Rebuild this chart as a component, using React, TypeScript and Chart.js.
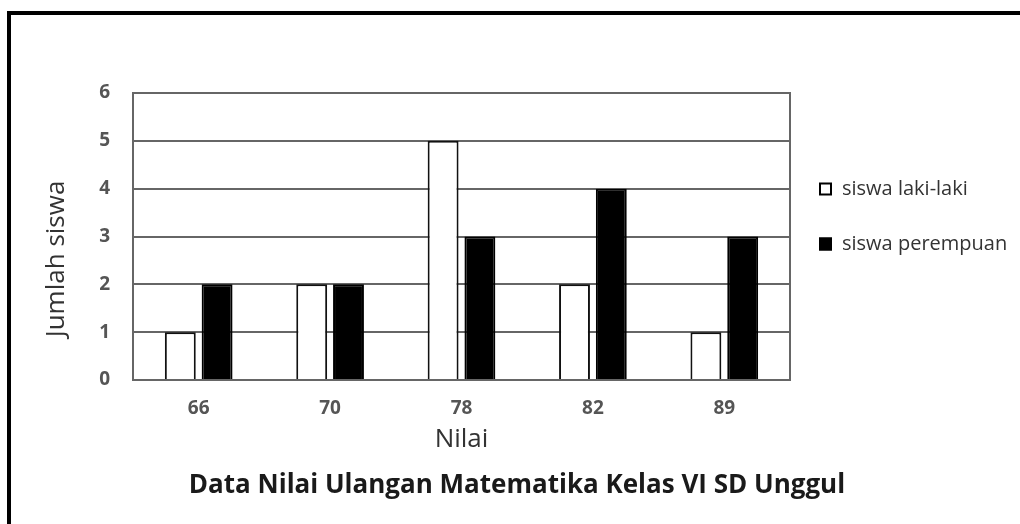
import React, { useEffect, useRef } from "react";
import { Chart, registerables } from "chart.js";

Chart.register(...registerables);

const categories = ["66", "70", "78", "82", "89"];
const seriesNames = ["siswa laki-laki", "siswa perempuan"];
const lakiLaki = [1, 2, 5, 2, 1];
const perempuan = [2, 2, 3, 4, 3];
const yTicks = [0, 1, 2, 3, 4, 5, 6];
const xTitle = "Nilai";
const yTitle = "Jumlah siswa";
const chartTitle = "Data Nilai Ulangan Matematika Kelas VI SD Unggul";

const FONT = "'Open Sans', 'Noto Sans', sans-serif";

const decorPlugin = {
  id: "decor",
  beforeDatasetsDraw(chart: any) {
    const { ctx, chartArea } = chart;
    ctx.save();
    ctx.strokeStyle = "#666";
    ctx.lineWidth = 2;
    ctx.strokeRect(chartArea.left, chartArea.top, chartArea.right - chartArea.left, chartArea.bottom - chartArea.top);
    ctx.restore();
  },
  afterDraw(chart: any) {
    const { ctx, chartArea } = chart;
    ctx.save();
    // y axis title
    ctx.translate(57, 259);
    ctx.rotate(-Math.PI / 2);
    ctx.font = `26px ${FONT}`;
    ctx.fillStyle = "#333";
    ctx.textAlign = "center";
    ctx.textBaseline = "middle";
    ctx.fillText(yTitle, 0, 0);
    ctx.restore();

    // legend
    ctx.save();
    const lx = chartArea.right + 29;
    const ys = [chartArea.top + 96, chartArea.top + 151];
    chart.data.datasets.forEach((ds: any, i: number) => {
      const y = ys[i];
      ctx.fillStyle = ds.backgroundColor;
      ctx.fillRect(lx, y - 6.5, 13, 13);
      ctx.strokeStyle = "#000";
      ctx.lineWidth = 2;
      ctx.strokeRect(lx + 1, y - 5.5, 11, 11);
      ctx.font = `20px ${FONT}`;
      ctx.fillStyle = "#333";
      ctx.textAlign = "left";
      ctx.textBaseline = "middle";
      ctx.fillText(ds.label, lx + 23, y);
    });
    ctx.restore();

    // chart title
    ctx.save();
    ctx.font = `bold 26px ${FONT}`;
    ctx.fillStyle = "#1a1a1a";
    ctx.textAlign = "center";
    ctx.textBaseline = "middle";
    ctx.fillText(chartTitle, 517, 486);
    ctx.restore();
  },
};

export default function App() {
  const canvasRef = useRef<HTMLCanvasElement | null>(null);

  useEffect(() => {
    const canvas = canvasRef.current;
    if (!canvas) return;
    const chart = new Chart(canvas, {
      type: "bar",
      data: {
        labels: categories,
        datasets: [
          {
            label: seriesNames[0],
            data: lakiLaki,
            backgroundColor: "#ffffff",
            borderColor: "#111111",
            borderWidth: 2,
          },
          {
            label: seriesNames[1],
            data: perempuan,
            backgroundColor: "#000000",
            borderColor: "#000000",
            borderWidth: 2,
          },
        ],
      },
      options: {
        responsive: false,
        animation: false,
        devicePixelRatio: 1,
        datasets: {
          bar: {
            categoryPercentage: 0.56,
            barPercentage: 0.84,
          },
        },
        layout: { padding: { left: 0, top: 93, right: 230, bottom: 64 } },
        plugins: {
          legend: { display: false },
          tooltip: { enabled: false },
          title: { display: false },
        },
        scales: {
          x: {
            grid: { display: false, drawTicks: false },
            border: { display: true, color: "#666", width: 2 },
            ticks: {
              padding: 17,
              color: "#555",
              font: { family: FONT, size: 19, weight: "bold" },
            },
            title: {
              display: true,
              text: xTitle,
              color: "#333",
              font: { family: FONT, size: 26 },
              padding: { top: 0, bottom: 5 },
            },
            afterFit: (s: any) => {
              s.height = 80;
            },
          },
          y: {
            min: 0,
            max: 6,
            afterBuildTicks: (s: any) => {
              s.ticks = yTicks.map((v) => ({ value: v }));
            },
            grid: { color: "#666", lineWidth: 2, drawTicks: false },
            border: { display: true, color: "#666", width: 2 },
            ticks: {
              padding: 23,
              color: "#555",
              font: { family: FONT, size: 19, weight: "bold" },
            },
            afterFit: (s: any) => {
              s.width = 133;
            },
          },
        },
      },
      plugins: [decorPlugin],
    });
    return () => chart.destroy();
  }, []);

  return (
    <div
      style={{
        position: "fixed",
        left: 0,
        top: 0,
        width: 1020,
        height: 524,
        background: "#fff",
        overflow: "hidden",
      }}
    >
      <div
        style={{
          position: "absolute",
          left: 7,
          top: 11,
          right: -10,
          bottom: -10,
          borderTop: "4px solid #000",
          borderLeft: "4px solid #000",
        }}
      />
      <canvas
        ref={canvasRef}
        width={1020}
        height={524}
        style={{ position: "absolute", left: 0, top: 0, width: 1020, height: 524 }}
      />
    </div>
  );
}
